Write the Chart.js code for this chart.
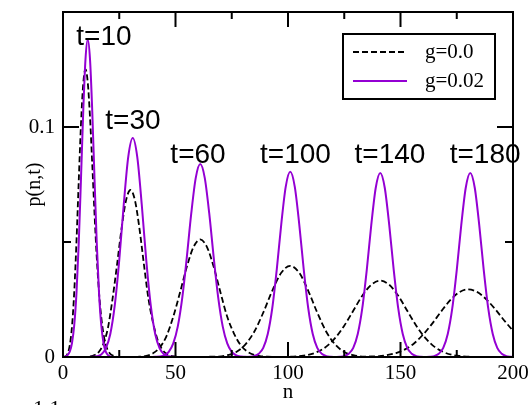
<!DOCTYPE html>
<html>
<head>
<meta charset="utf-8">
<script src="https://cdn.jsdelivr.net/npm/chart.js@4/dist/chart.umd.min.js"></script>
<style>
  html, body { margin: 0; padding: 0; background: #fff; }
  canvas { display: block; }
</style>
</head>
<body>
<canvas id="plot" width="529" height="405"></canvas>
<script>
// p(n,t) snapshots, free case (g=0.0)
const nFree10 = [0, 1, 2, 3, 4, 5, 6, 7, 8, 9, 10, 11, 12, 13, 14, 15, 16, 17, 18, 19, 20, 21, 22, 23, 24, 25];
const pFree10 = [0.0000, 0.0002, 0.0014, 0.0050, 0.0133, 0.0284, 0.0505, 0.0766, 0.1014, 0.1189, 0.1251, 0.1194, 0.1043, 0.0839, 0.0625, 0.0434, 0.0282, 0.0173, 0.0100, 0.0054, 0.0028, 0.0014, 0.0007, 0.0003, 0.0001, 0.0000];
const nFree30 = [8, 10, 12, 14, 16, 18, 20, 22, 24, 26, 28, 30, 32, 34, 36, 38, 40, 42, 44, 46, 48, 50, 52];
const pFree30 = [0.0000, 0.0000, 0.0002, 0.0008, 0.0023, 0.0058, 0.0128, 0.0252, 0.0400, 0.0557, 0.0680, 0.0726, 0.0680, 0.0557, 0.0400, 0.0252, 0.0150, 0.0076, 0.0034, 0.0014, 0.0005, 0.0002, 0.0000];
const nFree60 = [28, 31, 34, 37, 40, 43, 46, 49, 52, 55, 58, 61, 64, 67, 70, 73, 76, 79, 82, 85, 88, 91, 94];
const pFree60 = [0.0000, 0.0000, 0.0001, 0.0005, 0.0016, 0.0041, 0.0091, 0.0175, 0.0280, 0.0391, 0.0478, 0.0511, 0.0478, 0.0391, 0.0280, 0.0175, 0.0102, 0.0051, 0.0023, 0.0009, 0.0003, 0.0001, 0.0000];
const nFree100 = [61, 65, 69, 73, 77, 81, 85, 89, 93, 97, 101, 105, 109, 113, 117, 121, 125, 129, 133, 137, 141];
const pFree100 = [0.0000, 0.0001, 0.0002, 0.0008, 0.0022, 0.0054, 0.0110, 0.0193, 0.0288, 0.0366, 0.0396, 0.0366, 0.0288, 0.0193, 0.0110, 0.0054, 0.0022, 0.0008, 0.0002, 0.0001, 0.0000];
const nFree140 = [97, 101, 105, 109, 113, 117, 121, 125, 129, 133, 137, 141, 145, 149, 153, 157, 161, 165, 169, 173, 177, 181, 185];
const pFree140 = [0.0000, 0.0001, 0.0004, 0.0009, 0.0022, 0.0045, 0.0083, 0.0136, 0.0201, 0.0266, 0.0314, 0.0332, 0.0314, 0.0266, 0.0201, 0.0136, 0.0083, 0.0045, 0.0022, 0.0009, 0.0004, 0.0001, 0.0000];
const nFree180 = [132, 136, 140, 144, 148, 152, 156, 160, 164, 168, 172, 176, 180, 184, 188, 192, 196, 200];
const pFree180 = [0.0000, 0.0001, 0.0003, 0.0008, 0.0017, 0.0033, 0.0059, 0.0097, 0.0144, 0.0197, 0.0246, 0.0281, 0.0294, 0.0283, 0.0252, 0.0209, 0.0160, 0.0114];

// p(n,t) snapshots with g=0.02
const nG10 = [0, 1, 2, 3, 4, 5, 6, 7, 8, 9, 10, 11, 12, 13, 14, 15, 16, 17, 18, 19, 20, 21, 22];
const pG10 = [0.0000, 0.0002, 0.0008, 0.0023, 0.0061, 0.0139, 0.0280, 0.0497, 0.0777, 0.1069, 0.1295, 0.1380, 0.1295, 0.1069, 0.0777, 0.0497, 0.0280, 0.0139, 0.0061, 0.0023, 0.0008, 0.0002, 0.0000];
const nG30 = [11, 13, 15, 17, 19, 21, 23, 25, 27, 29, 31, 33, 35, 37, 39, 41, 43, 45, 47, 49, 51];
const pG30 = [0.0000, 0.0001, 0.0003, 0.0011, 0.0037, 0.0099, 0.0224, 0.0421, 0.0663, 0.0870, 0.0952, 0.0870, 0.0663, 0.0421, 0.0224, 0.0099, 0.0037, 0.0011, 0.0003, 0.0001, 0.0000];
const nG60 = [39, 41, 43, 45, 47, 49, 51, 53, 55, 57, 59, 61, 63, 65, 67, 69, 71, 73, 75, 77, 79, 81, 83];
const pG60 = [0.0000, 0.0001, 0.0002, 0.0007, 0.0022, 0.0059, 0.0132, 0.0257, 0.0431, 0.0624, 0.0779, 0.0839, 0.0779, 0.0624, 0.0431, 0.0257, 0.0132, 0.0059, 0.0022, 0.0007, 0.0002, 0.0001, 0.0000];
const nG100 = [81, 83, 85, 87, 89, 91, 93, 95, 97, 99, 101, 103, 105, 107, 109, 111, 113, 115, 117, 119, 121];
const pG100 = [0.0000, 0.0001, 0.0004, 0.0014, 0.0040, 0.0100, 0.0212, 0.0380, 0.0577, 0.0741, 0.0805, 0.0741, 0.0577, 0.0380, 0.0212, 0.0100, 0.0040, 0.0014, 0.0004, 0.0001, 0.0000];
const nG140 = [121, 123, 125, 127, 129, 131, 133, 135, 137, 139, 141, 143, 145, 147, 149, 151, 153, 155, 157, 159, 161];
const pG140 = [0.0000, 0.0001, 0.0004, 0.0014, 0.0040, 0.0100, 0.0211, 0.0378, 0.0573, 0.0736, 0.0800, 0.0736, 0.0573, 0.0378, 0.0211, 0.0100, 0.0040, 0.0014, 0.0004, 0.0001, 0.0000];
const nG180 = [161, 163, 165, 167, 169, 171, 173, 175, 177, 179, 181, 183, 185, 187, 189, 191, 193, 195, 197, 199, 201];
const pG180 = [0.0000, 0.0001, 0.0004, 0.0014, 0.0040, 0.0100, 0.0211, 0.0378, 0.0573, 0.0736, 0.0800, 0.0736, 0.0573, 0.0378, 0.0211, 0.0100, 0.0040, 0.0014, 0.0004, 0.0001, 0.0000];

const seriesNames = ['g=0.0', 'g=0.02'];
const timeLabels = ['t=10', 't=30', 't=60', 't=100', 't=140', 't=180'];
const xTicks = [0, 50, 100, 150, 200];
const yTicks = [0, 0.1];

const freeCurves = [[nFree10, pFree10], [nFree30, pFree30], [nFree60, pFree60], [nFree100, pFree100], [nFree140, pFree140], [nFree180, pFree180]];
const gCurves = [[nG10, pG10], [nG30, pG30], [nG60, pG60], [nG100, pG100], [nG140, pG140], [nG180, pG180]];

const PURPLE = '#9400d3';
const serif = 'Liberation Serif, Times New Roman, serif';
const sans = 'Liberation Sans, Arial, sans-serif';

function toPoints(ns, ps) {
  return ns.map((n, i) => ({ x: n, y: ps[i] }));
}

const datasets = [];
freeCurves.forEach(([ns, ps]) => {
  datasets.push({
    label: seriesNames[0],
    data: toPoints(ns, ps),
    borderColor: '#000',
    borderWidth: 1.8,
    borderDash: [6, 3],
    order: 1
  });
});
gCurves.forEach(([ns, ps]) => {
  datasets.push({
    label: seriesNames[1],
    data: toPoints(ns, ps),
    borderColor: PURPLE,
    borderWidth: 2,
    order: 0
  });
});

// where each t=... label sits, in (n, p) units
const labelSpots = [[18.2, 0.1357], [31.1, 0.0991], [60, 0.0843], [103.3, 0.0843], [145.3, 0.0843], [187.6, 0.0843]];

// keep the plot box fixed: no extra room for overhanging tick labels
function noOverhang(s) {
  s.paddingTop = 0;
  s.paddingBottom = 0;
  s.paddingLeft = 0;
  s.paddingRight = 0;
}

const framePlugin = {
  id: 'frame',
  afterDraw(chart) {
    const { ctx, chartArea: a, scales: { x, y } } = chart;
    ctx.save();

    // inward ticks on all four sides
    ctx.strokeStyle = '#000';
    ctx.lineWidth = 2;
    ctx.beginPath();
    for (let v = 25; v < 200; v += 25) {
      const px = x.getPixelForValue(v);
      const len = v % 50 === 0 ? 15 : 7;
      ctx.moveTo(px, a.bottom); ctx.lineTo(px, a.bottom - len);
      ctx.moveTo(px, a.top); ctx.lineTo(px, a.top + len);
    }
    [0.05, 0.1].forEach(v => {
      const py = y.getPixelForValue(v);
      const len = yTicks.includes(v) ? 16 : 8;
      ctx.moveTo(a.left, py); ctx.lineTo(a.left + len, py);
      ctx.moveTo(a.right, py); ctx.lineTo(a.right - len, py);
    });
    ctx.stroke();
    ctx.strokeRect(a.left, a.top, a.right - a.left, a.bottom - a.top);

    // t=... labels
    ctx.fillStyle = '#000';
    ctx.font = '28px ' + sans;
    ctx.textAlign = 'center';
    ctx.textBaseline = 'alphabetic';
    timeLabels.forEach((txt, i) => {
      const [n, p] = labelSpots[i];
      ctx.fillText(txt, x.getPixelForValue(n), y.getPixelForValue(p));
    });

    // legend box
    const bx = 343, by = 34, bw = 152, bh = 65;
    ctx.fillStyle = '#fff';
    ctx.fillRect(bx, by, bw, bh);
    ctx.lineWidth = 2;
    ctx.strokeRect(bx, by, bw, bh);
    const rows = [[52, '#000', [6, 3], 1.8], [81, PURPLE, [], 2]];
    rows.forEach(([ry, col, dash, lw], i) => {
      ctx.beginPath();
      ctx.setLineDash(dash);
      ctx.strokeStyle = col;
      ctx.lineWidth = lw;
      ctx.moveTo(353, ry); ctx.lineTo(407, ry);
      ctx.stroke();
      ctx.setLineDash([]);
      ctx.fillStyle = '#000';
      ctx.font = '21px ' + serif;
      ctx.textAlign = 'left';
      ctx.textBaseline = 'middle';
      ctx.fillText(seriesNames[i], 425, ry);
    });

    // caption line running off the bottom
    ctx.font = '22px ' + serif;
    ctx.textAlign = 'left';
    ctx.textBaseline = 'alphabetic';
    ctx.fillText('1.1', 33, 415);
    ctx.restore();
  }
};

new Chart(document.getElementById('plot'), {
  type: 'line',
  data: { datasets },
  options: {
    responsive: false,
    animation: false,
    layout: { padding: { top: 12, right: 16, left: 0, bottom: 0 } },
    elements: { point: { radius: 0 }, line: { cubicInterpolationMode: 'monotone' } },
    plugins: { legend: { display: false }, tooltip: { enabled: false } },
    scales: {
      x: {
        type: 'linear',
        min: 0,
        max: 200,
        grid: { display: false, drawTicks: false },
        border: { display: false },
        ticks: {
          stepSize: 25,
          autoSkip: false,
          maxRotation: 0,
          padding: 4,
          color: '#000',
          font: { family: serif, size: 21 },
          callback: v => (xTicks.includes(v) ? String(v) : '')
        },
        title: { display: true, text: 'n', color: '#000', font: { family: serif, size: 21 }, padding: { top: 0, bottom: 0 } },
        afterFit: s => { s.height = 48; noOverhang(s); }
      },
      y: {
        min: 0,
        max: 0.15,
        grid: { display: false, drawTicks: false },
        border: { display: false },
        ticks: {
          stepSize: 0.05,
          autoSkip: false,
          padding: 8,
          color: '#000',
          font: { family: serif, size: 21 },
          callback: v => (yTicks.some(t => Math.abs(t - v) < 1e-9) ? String(Math.round(v * 10) / 10) : '')
        },
        title: { display: true, text: 'p(n,t)', color: '#000', font: { family: serif, size: 20 }, padding: { top: 23, bottom: 0 } },
        afterFit: s => { s.width = 63; noOverhang(s); }
      }
    }
  },
  plugins: [framePlugin]
});
</script>
</body>
</html>
